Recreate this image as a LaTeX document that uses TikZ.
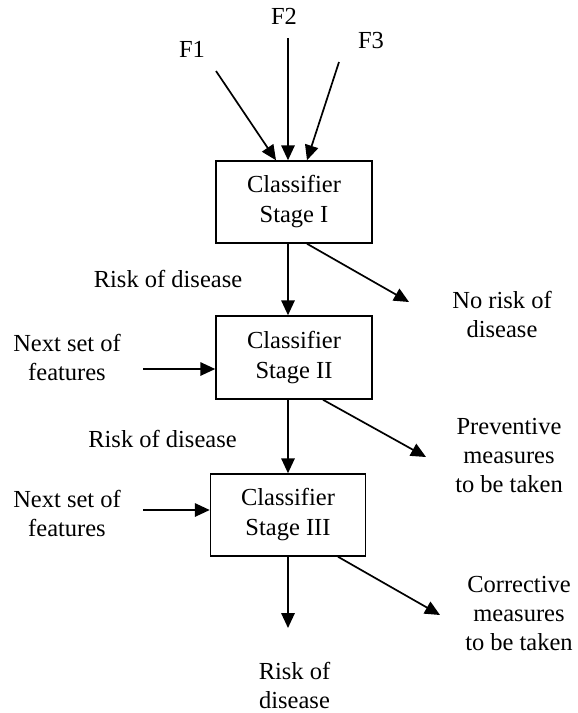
\documentclass[tikz,border=0pt]{standalone}
\usepackage{fontspec}
\setmainfont{Liberation Serif}
\usetikzlibrary{arrows.meta}
\begin{document}
\begin{tikzpicture}[x=1pt,y=-1pt,
  lbl/.style={font=\fontsize{24.5}{29}\selectfont, inner sep=0pt, align=center, anchor=base},
  stagebox/.style={draw, line width=1.5pt, minimum height=82pt, inner sep=0pt, align=center,
    font=\fontsize{24.5}{30}\selectfont},
  arr/.style={line width=1.7pt, -{Triangle[length=15pt,width=13.5pt]}}]
\useasboundingbox (0,0) rectangle (578,713);
% labels
\node[lbl] (F1) at (192,57) {F1};
\node[lbl] (F2) at (284,24) {F2};
\node[lbl] (F3) at (371,48) {F3};
% stage boxes
\node[stagebox, minimum width=156pt] (b1) at (294,202) {Classifier\\Stage I};
\node[stagebox, minimum width=156pt, minimum height=83pt] (b2) at (294,357.5) {Classifier\\Stage II};
\node[stagebox, minimum width=155pt] (b3) at (288,515) {Classifier\\Stage III};
% other labels (base = baseline of last line)
\node[lbl] (r1) at (168,287) {Risk of disease};
\node[lbl] (r2) at (162.5,447) {Risk of disease};
\node[lbl] (nr) at (502,337) {No risk of\\disease};
\node[lbl] (pv) at (509,492) {Preventive\\measures\\to be taken};
\node[lbl] (cr) at (519,650) {Corrective\\measures\\to be taken};
\node[lbl] (rd) at (294.5,708) {Risk of\\disease};
\node[lbl] (n1) at (67,380) {Next set of\\features};
\node[lbl] (n2) at (67,536) {Next set of\\features};
% free ends
\coordinate (f1s) at (216,71);
\coordinate (f2s) at (288,38);
\coordinate (f3s) at (339,62);
\coordinate (nrt) at (409,302);
\coordinate (pvt) at (426,457);
\coordinate (crt) at (440,615);
\coordinate (rdt) at (288,628);
\coordinate (n1s) at (143,369);
\coordinate (n2s) at (143,510);
% connectors
\draw[arr] (f1s) -- ([xshift=-18pt]b1.north);
\draw[arr] (f2s) -- ([xshift=-6pt]b1.north);
\draw[arr] (f3s) -- ([xshift=13pt]b1.north);
\draw[arr] ([xshift=-6pt]b1.south) -- ([xshift=-6pt]b2.north);
\draw[arr] ([xshift=13pt]b1.south) -- (nrt);
\draw[arr] ([xshift=-6pt]b2.south) -- (b3.north);
\draw[arr] ([xshift=29pt]b2.south) -- (pvt);
\draw[arr] (b3.south) -- (rdt);
\draw[arr] ([xshift=50pt]b3.south) -- (crt);
\draw[arr] (n1s) -- ([yshift=-11.5pt]b2.west);
\draw[arr] (n2s) -- ([yshift=5pt]b3.west);
\end{tikzpicture}
\end{document}
